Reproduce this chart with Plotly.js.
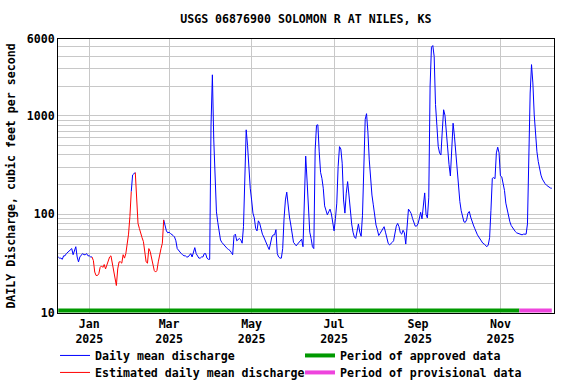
<!DOCTYPE html>
<html>
<head>
<meta charset="utf-8">
<script src="https://cdn.plot.ly/plotly-3.0.1.min.js"></script>
<style>
  html, body { margin: 0; padding: 0; background: #fff; }
  #chart { width: 576px; height: 384px; }
</style>
</head>
<body>
<div id="chart"></div>
<script>
// USGS daily discharge, Solomon R at Niles, KS

var startDate = '2024-12-09';

// daily mean discharge, cfs, one value per day from startDate
var flow = [
    37, 36, 36, 35, 38, 38, 40, 41, 42, 44,
    45, 39, 42, 47, 37, 33, 37, 39, 40, 39,
    39, 40, 38, 38, 37, 37, 34, 26, 24, 24,
    25, 29, 30, 29, 31, 28, 31, 33, 37, 38,
    32, 27, 22, 19, 28, 33, 33, 32, 39, 36,
    40, 50, 63, 95, 170, 251, 259, 265, 140, 81,
    72, 63, 58, 53, 44, 33, 32, 45, 42, 37,
    32, 27, 26, 27, 33, 40, 45, 51, 88, 78,
    68, 65, 66, 64, 63, 61, 59, 54, 45, 43,
    41, 40, 39, 38, 38, 37, 37, 39, 40, 37,
    42, 46, 40, 38, 36, 36, 37, 37, 40, 40,
    36, 35, 35, 800, 2600, 580, 241, 106, 83, 65,
    55, 52, 50, 48, 46, 45, 44, 43, 41, 39,
    61, 63, 54, 55, 57, 55, 51, 75, 280, 720,
    500, 270, 184, 140, 103, 92, 72, 68, 86, 81,
    71, 63, 59, 54, 50, 47, 44, 50, 59, 62,
    62, 70, 40, 37, 36, 36, 45, 91, 140, 168,
    118, 94, 78, 63, 52, 50, 48, 50, 52, 55,
    56, 47, 140, 390, 223, 103, 66, 57, 47, 45,
    450, 800, 810, 430, 267, 232, 184, 122, 106, 99,
    106, 113, 101, 80, 68, 91, 130, 305, 486, 460,
    330, 140, 103, 164, 215, 157, 100, 80, 66, 59,
    57, 71, 80, 66, 60, 98, 261, 920, 1050, 690,
    357, 207, 157, 125, 95, 78, 70, 61, 64, 67,
    71, 75, 66, 56, 51, 49, 50, 52, 54, 64,
    76, 81, 75, 65, 63, 69, 65, 50, 85, 113,
    108, 102, 91, 82, 76, 76, 80, 90, 105, 90,
    121, 165, 100, 92, 147, 2000, 4960, 5150, 4000, 1300,
    800, 490, 420, 400, 700, 1150, 1010, 645, 435, 320,
    245, 510, 840, 620, 420, 253, 178, 135, 109, 92,
    84, 83, 88, 103, 107, 94, 84, 78, 72, 66,
    62, 59, 56, 54, 51, 50, 48, 47, 49, 58,
    110, 232, 236, 230, 420, 480, 420, 246, 240, 210,
    175, 130, 110, 97, 84, 77, 73, 70, 67, 65,
    64, 63, 62, 62, 63, 63, 63, 80, 450, 1700,
    3300, 2150, 1020, 600, 431, 343, 280, 250, 228, 212,
    205, 198, 192, 188, 185, 184
];

// estimated (ice-affected) periods, first and last day
var estimatedPeriods = [
    ['2025-01-03', '2025-02-01'],
    ['2025-02-04', '2025-02-25']
];

var approvedPeriod = ['2024-12-09', '2025-11-15'];
var provisionalPeriod = ['2025-11-15', '2025-12-09'];

var yTickVals = [10, 100, 1000, 6000];
var yTickText = ['10', '100', '1000', '6000'];
var yMinorVals = [20, 30, 40, 50, 60, 70, 80, 90, 200, 300, 400, 500, 600, 700, 800, 900, 2000, 3000, 4000, 5000];

// build the date list
var dates = [];
var t0 = new Date(startDate + 'T00:00:00Z');
for (var i = 0; i < flow.length; i++) {
    var d = new Date(t0.getTime() + i * 86400000);
    dates.push(d.toISOString().slice(0, 10));
}

function inside(day, strict) {
    for (var k = 0; k < estimatedPeriods.length; k++) {
        var p = estimatedPeriods[k];
        if (strict ? (day > p[0] && day < p[1]) : (day >= p[0] && day <= p[1])) return true;
    }
    return false;
}

var blueY = flow.map(function(v, i) { return inside(dates[i], true) ? null : v; });
var redY = flow.map(function(v, i) { return inside(dates[i], false) ? v : null; });

var barLevel = 10.6;
var font = "'DejaVu Sans Mono', monospace";

var data = [
    {
        x: dates, y: blueY, type: 'scatter', mode: 'lines',
        name: 'Daily mean discharge',
        line: { color: '#0000ff', width: 1 },
        connectgaps: false, legend: 'legend'
    },
    {
        x: approvedPeriod, y: [barLevel, barLevel], type: 'scatter', mode: 'lines',
        name: 'Period of approved data',
        line: { color: '#009900', width: 4 }, legend: 'legend'
    },
    {
        x: dates, y: redY, type: 'scatter', mode: 'lines',
        name: 'Estimated daily mean discharge',
        line: { color: '#ff0000', width: 1 },
        connectgaps: false, legend: 'legend2'
    },
    {
        x: provisionalPeriod, y: [barLevel, barLevel], type: 'scatter', mode: 'lines',
        name: 'Period of provisional data',
        line: { color: '#ee44dd', width: 4 }, legend: 'legend2'
    }
];

var legendBase = {
    orientation: 'h',
    xanchor: 'left', yanchor: 'top',
    x: -0.006,
    entrywidth: 200, entrywidthmode: 'pixels',
    font: { family: font, size: 11.6, color: '#000', weight: 'bold' },
    bgcolor: 'rgba(0,0,0,0)'
};

var layout = {
    width: 576,
    height: 384,
    margin: { l: 58, r: 22, t: 39, b: 71, autoexpand: false },
    paper_bgcolor: '#fff',
    plot_bgcolor: '#fff',
    font: { family: font, size: 11.6, color: '#000', weight: 'bold' },
    title: {
        text: 'USGS 06876900 SOLOMON R AT NILES, KS',
        font: { family: font, size: 11.6, color: '#000', weight: 'bold' },
        x: 0.531, xanchor: 'center', y: 0.95, yanchor: 'middle'
    },
    showlegend: true,
    legend: Object.assign({}, legendBase, { y: -0.102 }),
    legend2: Object.assign({}, legendBase, { y: -0.164 }),
    xaxis: {
        type: 'date',
        range: ['2024-12-08 20:00', '2025-12-10 15:00'],
        tick0: '2025-01-01', dtick: 'M2',
        tickformat: '%b<br>%Y',
        ticks: '',
        showgrid: true, gridcolor: '#c8c8c8', gridwidth: 1,
        showline: true, linecolor: '#000', linewidth: 1, mirror: true,
        zeroline: false
    },
    yaxis: {
        type: 'log',
        range: [1, Math.log10(6000)],
        tickmode: 'array', tickvals: yTickVals, ticktext: yTickText,
        ticks: '',
        showgrid: true, gridcolor: '#c8c8c8', gridwidth: 1,
        minor: { tickmode: 'array', tickvals: yMinorVals, showgrid: true, gridcolor: '#c8c8c8', gridwidth: 1, ticks: '' },
        showline: true, linecolor: '#000', linewidth: 1, mirror: true,
        zeroline: false,
        title: { text: 'DAILY Discharge, cubic feet per second', standoff: 8,
                 font: { family: font, size: 11.6, color: '#000', weight: 'bold' } }
    }
};

Plotly.newPlot('chart', data, layout, { displayModeBar: false, staticPlot: true });
</script>
</body>
</html>
